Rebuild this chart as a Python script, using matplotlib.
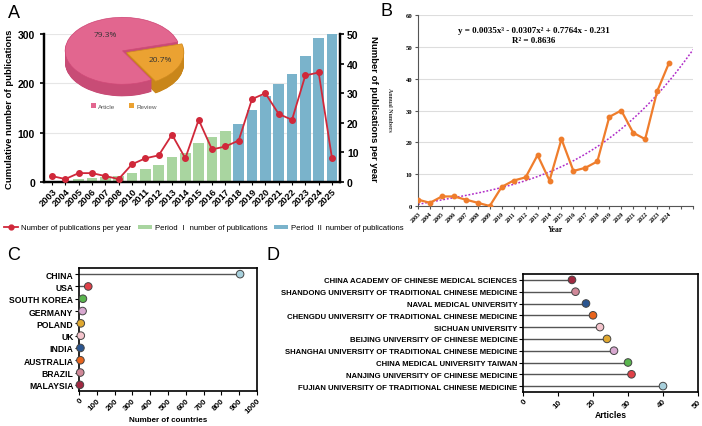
import matplotlib
matplotlib.use("Agg")
import matplotlib.pyplot as plt
import numpy as np
from matplotlib.patches import Wedge, Patch
from matplotlib.lines import Line2D

plt.rcParams['font.family'] = ['Liberation Sans', 'DejaVu Sans']

# ---------------- data ----------------
years_a = ['2003', '2004', '2005', '2006', '2007', '2008', '2010', '2011', '2012', '2013', '2014',
           '2015', '2016', '2017', '2018', '2019', '2020', '2021', '2022', '2023', '2024', '2025']
cumulative = [2, 3, 6, 9, 11, 12, 18, 26, 35, 51, 59, 80, 91, 103, 117, 145, 175, 198, 219, 255, 292, 300]
per_year_a = [2, 1, 3, 3, 2, 1, 6, 8, 9, 16, 8, 21, 11, 12, 14, 28, 30, 23, 21, 36, 37, 8]
period1_count = 14  # first 14 bars (2003-2017) are Period I

pie_labels = ['Article', 'Review']
pie_shares = [79.3, 20.7]

years_b = ['2003', '2004', '2005', '2006', '2007', '2008', '2009', '2010', '2011', '2012', '2013',
           '2014', '2015', '2016', '2017', '2018', '2019', '2020', '2021', '2022', '2023', '2024']
annual_b = [2, 1, 3, 3, 2, 1, 0, 6, 8, 9, 16, 8, 21, 11, 12, 14, 28, 30, 23, 21, 36, 45]
trend_coef = [0.0035, -0.0307, 0.7764, -0.231]

countries = ['CHINA', 'USA', 'SOUTH KOREA', 'GERMANY', 'POLAND', 'UK', 'INDIA', 'AUSTRALIA', 'BRAZIL', 'MALAYSIA']
country_counts = [905, 52, 22, 20, 10, 10, 8, 8, 7, 5]
country_colors = ['#a8d0dc', '#e04048', '#5ab54e', '#d8a8d0', '#e0a830', '#f4c4cc', '#2a5590', '#e8641c', '#d08898', '#a02840']

institutions = ['CHINA ACADEMY OF CHINESE MEDICAL SCIENCES',
                'SHANDONG UNIVERSITY OF TRADITIONAL CHINESE MEDICINE',
                'NAVAL MEDICAL UNIVERSITY',
                'CHENGDU UNIVERSITY OF TRADITIONAL CHINESE MEDICINE',
                'SICHUAN UNIVERSITY',
                'BEIJING UNIVERSITY OF CHINESE MEDICINE',
                'SHANGHAI UNIVERSITY OF TRADITIONAL CHINESE MEDICINE',
                'CHINA MEDICAL UNIVERSITY TAIWAN',
                'NANJING UNIVERSITY OF CHINESE MEDICINE',
                'FUJIAN UNIVERSITY OF TRADITIONAL CHINESE MEDICINE']
inst_counts = [14, 15, 18, 20, 22, 24, 26, 30, 31, 40]
inst_colors = ['#a02840', '#d08898', '#2a5590', '#e8641c', '#f4c4cc', '#e0a830', '#d8a8d0', '#5ab54e', '#e04048', '#a8d0dc']

# ---------------- figure ----------------
W, H = 702, 427
fig = plt.figure(figsize=(W / 100, H / 100), dpi=100)


def ax_px(l, t, r, b):
    return fig.add_axes([l / W, 1 - b / H, (r - l) / W, (b - t) / H])


GREEN = '#a9d5a0'
BLUE = '#7ab3cb'
RED = '#d0283a'

# ---------------- Panel A ----------------
axA = ax_px(44, 35, 340, 183)
xa = np.arange(len(years_a))
bar_colors = [GREEN if i < period1_count else BLUE for i in range(len(years_a))]
axA.bar(xa, cumulative, width=0.8, color=bar_colors, zorder=2)
axA.set_xlim(-0.6, len(years_a) - 0.4)
axA.set_ylim(0, 300)
axA.set_yticks([0, 100, 200, 300])
axA.yaxis.grid(True, color='#e6e6e6', lw=0.8, zorder=0)
axA.set_axisbelow(True)
axA.spines['top'].set_visible(False)
for s in ['left', 'bottom', 'right']:
    axA.spines[s].set_linewidth(1.6)
axA.set_xticks(xa)
axA.set_xticklabels(years_a, rotation=45, ha='right', rotation_mode='anchor', fontsize=6.7, fontweight='bold')
axA.tick_params(axis='x', length=2, pad=1)
axA.tick_params(axis='y', labelsize=7.5, length=3, width=1.2)
for lab in axA.get_yticklabels():
    lab.set_fontweight('bold')
axA.set_ylabel('Cumulative number of publications', fontsize=6.8, fontweight='bold', labelpad=3)

axA2 = axA.twinx()
axA2.plot(xa, per_year_a, color=RED, marker='o', ms=4, lw=1.3, zorder=3)
axA2.set_ylim(0, 50)
axA2.set_yticks([0, 10, 20, 30, 40, 50])
axA2.tick_params(axis='y', labelsize=7.5, length=3, width=1.2, pad=2)
for lab in axA2.get_yticklabels():
    lab.set_fontweight('bold')
axA2.spines['top'].set_visible(False)
for s in ['left', 'bottom', 'right']:
    axA2.spines[s].set_linewidth(1.6)
axA2.set_ylabel('Number of publications per year', fontsize=6.8, fontweight='bold', rotation=-90, labelpad=14)

fig.text(8 / W, 1 - 13 / H, 'A', fontsize=13, va='center', ha='left')

# legend of panel A
handles = [Line2D([0], [0], color=RED, marker='o', ms=3.5, lw=1.3),
           Patch(facecolor=GREEN), Patch(facecolor=BLUE)]
labels = ['Number of publications per year', 'Period Ⅰ number of publications', 'Period Ⅱ number of publications']
leg = fig.legend(handles, labels, loc='center left', bbox_to_anchor=(1 / W, 1 - 229 / H), ncol=3,
                 frameon=False, fontsize=5.6, handlelength=1.8, handleheight=0.35, columnspacing=0.8,
                 handletextpad=0.4, borderaxespad=0)
for t in leg.get_texts():
    t.set_family(['Liberation Sans', 'Noto Sans CJK SC'])

# ---------------- Pie inset (pseudo 3D) ----------------
axP = ax_px(60, 14, 185, 102)
axP.set_xlim(-1.09, 1.09)
axP.set_ylim(-1.5, 1.13)
axP.axis('off')
total = sum(pie_shares)
art_ang = 360 * pie_shares[0] / total
rev_start = 15 - (360 - art_ang)  # review wedge runs from rev_start to 15 deg
article_top, article_side = '#e2668f', '#c84c76'
review_top, review_side = '#eba232', '#c9861a'
rev_off = np.array([0.07, -0.05])
depth = 0.36
n_layers = 30
for k in range(n_layers, 0, -1):
    dy = -depth * k / n_layers
    axP.add_patch(Wedge((0, dy), 1.0, 15, 15 + art_ang, facecolor=article_side, edgecolor='none'))
    axP.add_patch(Wedge((rev_off[0], rev_off[1] + dy), 1.0, rev_start, 15, facecolor=review_side, edgecolor='none'))
axP.add_patch(Wedge((0, 0), 1.0, 15, 15 + art_ang, facecolor=article_top, edgecolor='#d04a78', lw=0.5))
axP.add_patch(Wedge(tuple(rev_off), 1.0, rev_start, 15, facecolor=review_top, edgecolor='#d08a20', lw=0.5))
axP.text(-0.3, 0.48, f'{pie_shares[0]:.1f}%', fontsize=6, ha='center', va='center', color='#333333',
         family='Open Sans')
axP.text(0.66, -0.27, f'{pie_shares[1]:.1f}%', fontsize=6, ha='center', va='center', color='#333333',
         family='Open Sans')
pleg = fig.legend([Patch(facecolor=article_top), Patch(facecolor=review_top)], pie_labels,
                  loc='center', bbox_to_anchor=(124 / W, 1 - 107 / H), ncol=2, frameon=False,
                  fontsize=4.5, handlelength=0.8, handleheight=0.8, columnspacing=2.2, handletextpad=0.4,
                  borderaxespad=0)
for t in pleg.get_texts():
    t.set_color('#555555')

# ---------------- Panel B ----------------
axB = ax_px(418, 16, 693, 207)
xb = np.arange(1, len(years_b) + 1)
xt = np.linspace(1, 24, 300)
yt = np.polyval(trend_coef, xt)
axB.plot(xt, yt, color='#b02cc8', ls=(0, (1.2, 1.2)), lw=1.1, zorder=2)
axB.plot(xb, annual_b, color='#ef7d2c', marker='o', ms=3.2, lw=1.6, zorder=3)
axB.set_xlim(1, 24)
axB.set_ylim(0, 60)
axB.set_yticks(range(0, 61, 10))
axB.yaxis.grid(True, color='#dddddd', lw=0.8)
axB.set_axisbelow(True)
axB.spines['top'].set_visible(False)
axB.spines['right'].set_visible(False)
axB.spines['left'].set_color('#555555')
axB.spines['bottom'].set_color('#555555')
axB.set_xticks(range(1, 25))
axB.set_xticklabels(years_b + ['', ''], rotation=45, ha='right', rotation_mode='anchor',
                    fontsize=4.3, fontweight='bold', family='Liberation Serif')
axB.tick_params(axis='x', length=2.5, pad=1, color='#555555')
axB.tick_params(axis='y', length=2, labelsize=4.8, pad=2, color='#555555')
for lab in axB.get_yticklabels():
    lab.set_fontweight('bold')
    lab.set_family('Liberation Serif')
axB.set_xlabel('Year', fontsize=5.5, fontweight='bold', family='Liberation Serif', labelpad=1)
fig.text(390 / W, 1 - 110 / H, 'Annual Numbers', fontsize=4.3, rotation=-90, ha='center', va='center',
         family='Liberation Serif', fontweight='bold', color='#333333')
eq = 'y = {:.4f}x³ - {:.4f}x² + {:.4f}x - {:.3f}'.format(trend_coef[0], -trend_coef[1], trend_coef[2], -trend_coef[3])
axB.text(0.42, 0.92, eq, transform=axB.transAxes, ha='center', va='center', fontsize=6.5,
         fontweight='bold', family='Liberation Serif')
axB.text(0.42, 0.867, 'R² = 0.8636', transform=axB.transAxes, ha='center', va='center', fontsize=6.5,
         fontweight='bold', family='Liberation Serif')
fig.text(381 / W, 1 - 11 / H, 'B', fontsize=13, va='center', ha='left')


# ---------------- lollipop helper ----------------
def lollipop(ax, labels, vals, cols, xmax, step, ylab_size):
    n = len(labels)
    ypos = np.arange(n)[::-1]
    ax.hlines(ypos, 0, vals, color='#555555', lw=1.0, zorder=1)
    ax.scatter(vals, ypos, s=30, c=cols, edgecolors='#444444', linewidths=0.7, zorder=3, clip_on=False)
    ax.set_ylim(-0.5, n - 0.5)
    ax.set_xlim(0, xmax)
    ax.set_yticks(ypos)
    ax.set_yticklabels(labels, fontsize=ylab_size, fontweight='bold')
    ax.set_xticks(np.arange(0, xmax + 0.001, step))
    ax.tick_params(axis='y', length=3, pad=1, width=0.8)
    ax.tick_params(axis='x', length=3, pad=1, width=0.8, labelsize=5.8)
    for lab in ax.get_xticklabels():
        lab.set_fontweight('bold')
        lab.set_rotation(45)
        lab.set_ha('right')
        lab.set_rotation_mode('anchor')
    for s in ax.spines.values():
        s.set_linewidth(1.2)


# ---------------- Panel C ----------------
axC = ax_px(79, 269, 257, 392)
lollipop(axC, countries, country_counts, country_colors, 1000, 100, 6.2)
axC.set_xlabel('Number of countries', fontsize=5.8, fontweight='bold', labelpad=1)
fig.text(7 / W, 1 - 256 / H, 'C', fontsize=13, va='center', ha='left')

# ---------------- Panel D ----------------
axD = ax_px(523, 275, 698, 393)
lollipop(axD, institutions, inst_counts, inst_colors, 50, 10, 5.6)
axD.set_xlabel('Articles', fontsize=6.2, fontweight='bold', labelpad=1)
fig.text(266 / W, 1 - 256 / H, 'D', fontsize=13, va='center', ha='left')

fig.savefig('out.png', dpi=100)
